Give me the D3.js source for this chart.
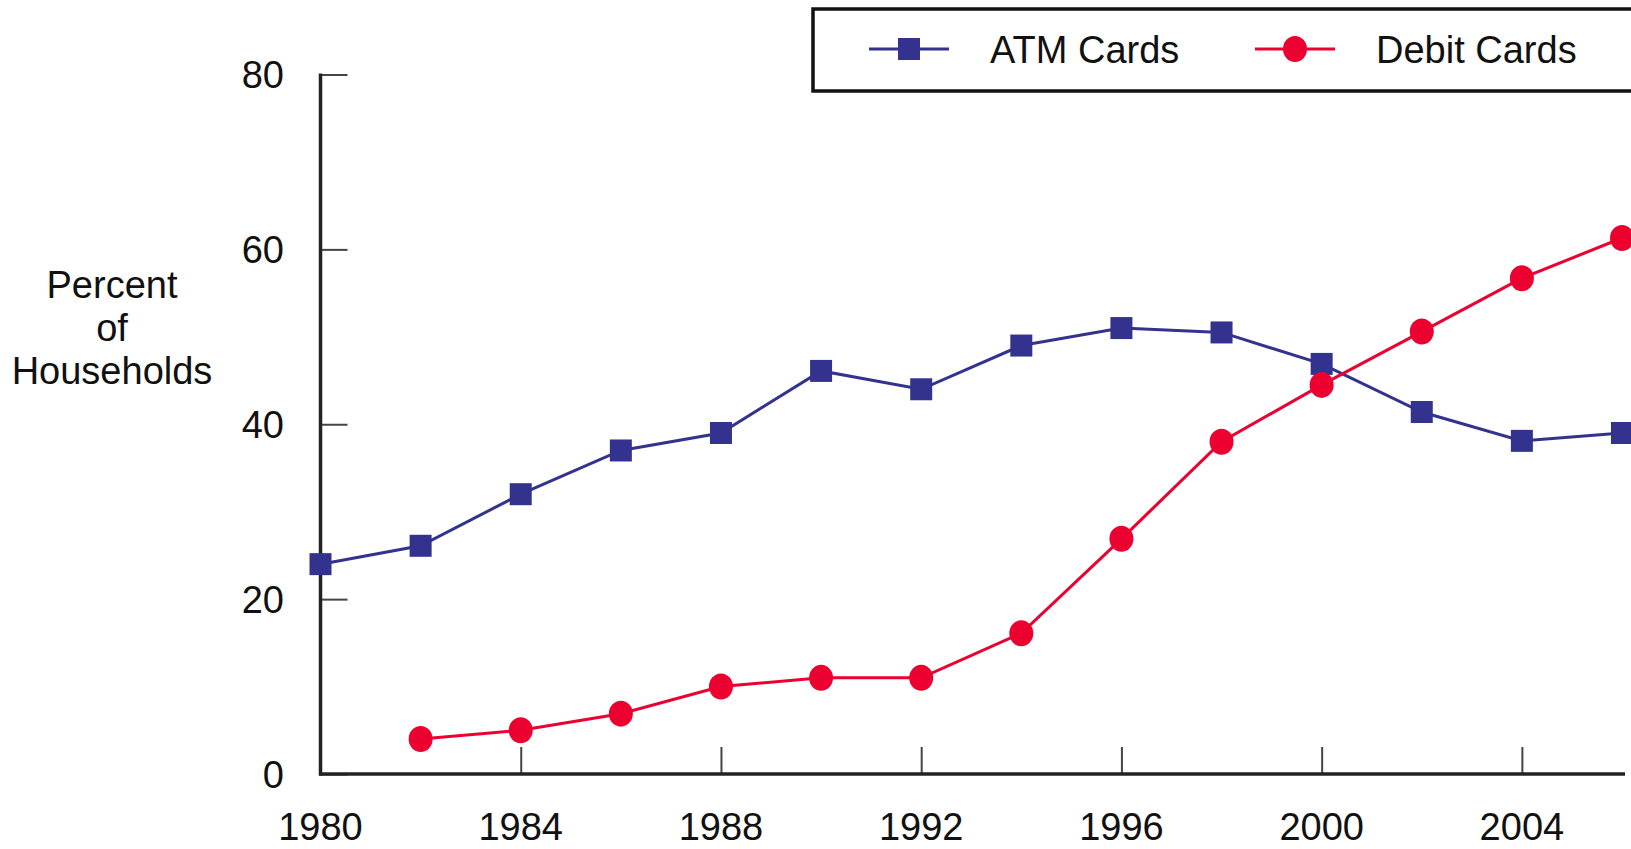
<!DOCTYPE html>
<html>
<head>
<meta charset="utf-8">
<script src="https://cdn.jsdelivr.net/npm/d3@7"></script>
<style>
  body { margin: 0; background: #fff; overflow: hidden; }
  text { font-family: "Liberation Sans", Arial, Helvetica, sans-serif; fill: #111; }
</style>
</head>
<body>
<svg id="chart" width="1631" height="849"></svg>
<script>
// data
const atmYears = [1980, 1982, 1984, 1986, 1988, 1990, 1992, 1994, 1996, 1998, 2000, 2002, 2004, 2006];
const atmValues = [24, 26.1, 32, 37, 39, 46.1, 44, 49, 51, 50.5, 46.9, 41.4, 38.1, 39];
const debitYears = [1982, 1984, 1986, 1988, 1990, 1992, 1994, 1996, 1998, 2000, 2002, 2004, 2006];
const debitValues = [4, 5, 6.9, 10, 11, 11, 16.1, 26.9, 38, 44.5, 50.6, 56.7, 61.3];
const xTicks = [1980, 1984, 1988, 1992, 1996, 2000, 2004];
const yTicks = [0, 20, 40, 60, 80];
const seriesNames = ['ATM Cards', 'Debit Cards'];

const blue = '#33338f';
const red = '#ec0030';
const fontSize = '38px';

const svg = d3.select('#chart');

const xScale = d3.scaleLinear()
  .domain([1980, 2006])
  .range([320.5, 1622]);

const yScale = d3.scaleLinear()
  .domain([0, 80])
  .range([774, 74.5]);

// axes: ticks point inward, labels placed apart
const xAxis = d3.axisTop(xScale)
  .tickValues(xTicks)
  .tickSize(27)
  .tickSizeOuter(0)
  .tickFormat('');

const yAxis = d3.axisRight(yScale)
  .tickValues(yTicks)
  .tickSize(27)
  .tickSizeOuter(0)
  .tickFormat('');

const xAxisG = svg.append('g')
  .attr('transform', `translate(0,${yScale(0)})`)
  .call(xAxis);
xAxisG.select('.domain').remove();
xAxisG.selectAll('.tick line').attr('stroke', '#444').attr('stroke-width', 2);

const yAxisG = svg.append('g')
  .attr('transform', `translate(${xScale(1980)},0)`)
  .call(yAxis);
yAxisG.select('.domain').remove();
yAxisG.selectAll('.tick line').attr('stroke', '#444').attr('stroke-width', 2);

// axis lines
svg.append('line')
  .attr('x1', xScale(1980)).attr('x2', xScale(1980))
  .attr('y1', yScale(80) - 1).attr('y2', yScale(0) + 1.5)
  .attr('stroke', '#222').attr('stroke-width', 3.5);
svg.append('line')
  .attr('x1', xScale(1980) - 1.5).attr('x2', 1625)
  .attr('y1', yScale(0)).attr('y2', yScale(0))
  .attr('stroke', '#222').attr('stroke-width', 3.5);

// tick labels
svg.append('g').selectAll('text').data(yTicks)
  .enter().append('text')
    .attr('x', 284)
    .attr('y', d => yScale(d))
    .attr('dy', '0.36em')
    .attr('text-anchor', 'end')
    .style('font-size', fontSize)
    .text(d => d);

svg.append('g').selectAll('text').data(xTicks)
  .enter().append('text')
    .attr('x', d => xScale(d))
    .attr('y', 826)
    .attr('dy', '0.36em')
    .attr('text-anchor', 'middle')
    .style('font-size', fontSize)
    .text(d => d);

// y axis title
const titleLines = ['Percent', 'of', 'Households'];
svg.append('g').selectAll('text').data(titleLines)
  .enter().append('text')
    .attr('x', 112)
    .attr('y', (d, i) => 284 + i * 43)
    .attr('dy', '0.36em')
    .attr('text-anchor', 'middle')
    .style('font-size', fontSize)
    .text(d => d);

// lines
const atmData = atmYears.map((y, i) => ({ x: y, v: atmValues[i] }));
const debitData = debitYears.map((y, i) => ({ x: y, v: debitValues[i] }));

const line = d3.line()
  .x(d => xScale(d.x))
  .y(d => yScale(d.v));

svg.append('path')
  .datum(atmData)
  .attr('d', line)
  .attr('fill', 'none')
  .attr('stroke', blue)
  .attr('stroke-width', 3);

svg.append('g').selectAll('rect').data(atmData)
  .enter().append('rect')
    .attr('x', d => xScale(d.x) - 11)
    .attr('y', d => yScale(d.v) - 11)
    .attr('width', 22)
    .attr('height', 22)
    .attr('fill', blue);

svg.append('path')
  .datum(debitData)
  .attr('d', line)
  .attr('fill', 'none')
  .attr('stroke', red)
  .attr('stroke-width', 3);

svg.append('g').selectAll('ellipse').data(debitData)
  .enter().append('ellipse')
    .attr('cx', d => xScale(d.x))
    .attr('cy', d => yScale(d.v))
    .attr('rx', 12)
    .attr('ry', 13)
    .attr('fill', red);

// legend
const legend = svg.append('g');
legend.append('rect')
  .attr('x', 813).attr('y', 9)
  .attr('width', 840).attr('height', 82)
  .attr('fill', '#fff')
  .attr('stroke', '#111')
  .attr('stroke-width', 3.5);

const legendItems = [
  { name: seriesNames[0], color: blue, x: 869, shape: 'square' },
  { name: seriesNames[1], color: red, x: 1255, shape: 'circle' }
];
const ly = 49;
legendItems.forEach(d => {
  legend.append('line')
    .attr('x1', d.x).attr('x2', d.x + 80)
    .attr('y1', ly).attr('y2', ly)
    .attr('stroke', d.color).attr('stroke-width', 3);
  if (d.shape === 'square') {
    legend.append('rect')
      .attr('x', d.x + 40 - 11).attr('y', ly - 11)
      .attr('width', 22).attr('height', 22)
      .attr('fill', d.color);
  } else {
    legend.append('ellipse')
      .attr('cx', d.x + 40).attr('cy', ly)
      .attr('rx', 12).attr('ry', 13)
      .attr('fill', d.color);
  }
  legend.append('text')
    .attr('x', d.x + 121)
    .attr('y', ly)
    .attr('dy', '0.36em')
    .style('font-size', fontSize)
    .text(d.name);
});
</script>
</body>
</html>
